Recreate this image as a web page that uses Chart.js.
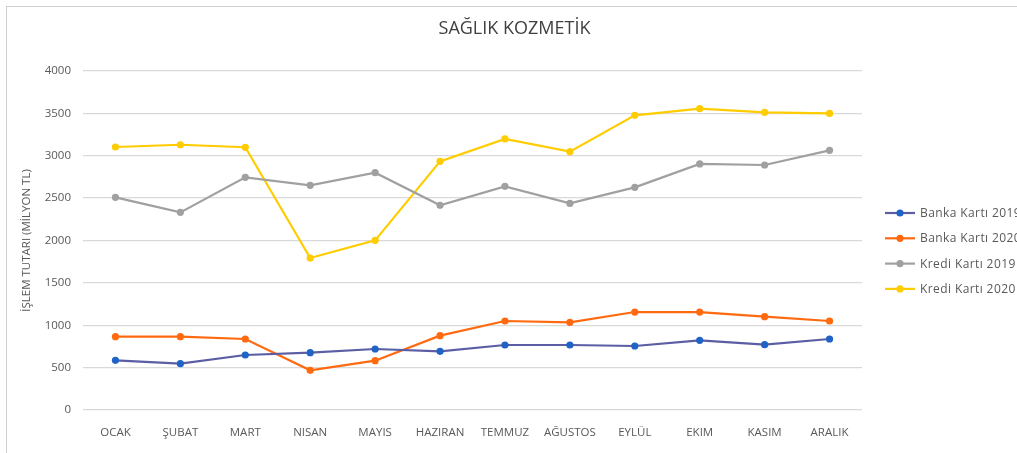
<!DOCTYPE html>
<html>
<head>
<meta charset="utf-8">
<script src="https://cdn.jsdelivr.net/npm/chart.js@4.4.1/dist/chart.umd.min.js"></script>
<style>
    html, body { margin: 0; padding: 0; background: #fff; overflow: hidden; }
    #wrap { position: relative; width: 1017px; height: 453px; }
    #frame { position: absolute; left: 6px; top: 6px; width: 1040px; height: 470px; border: 1px solid #cfcfcf; box-sizing: border-box; }
    canvas { position: absolute; left: 0; top: 0; }
</style>
</head>
<body>
<div id="wrap">
    <div id="frame"></div>
    <canvas id="chart" width="1017" height="453"></canvas>
</div>
<script>
// Chart data
const chartTitle = 'SAĞLIK KOZMETİK';
const months = ['OCAK', 'ŞUBAT', 'MART', 'NISAN', 'MAYIS', 'HAZIRAN', 'TEMMUZ', 'AĞUSTOS', 'EYLÜL', 'EKIM', 'KASIM', 'ARALIK'];
const banka2019 = [586, 547, 649, 676, 720, 692, 767, 767, 755, 822, 771, 838];
const banka2020 = [865, 865, 838, 468, 582, 877, 1050, 1035, 1156, 1156, 1101, 1050];
const kredi2019 = [2509, 2332, 2745, 2651, 2800, 2415, 2639, 2438, 2627, 2903, 2891, 3064];
const kredi2020 = [3103, 3130, 3100, 1793, 2002, 2934, 3198, 3048, 3477, 3556, 3512, 3500];
const yTicks = [0, 500, 1000, 1500, 2000, 2500, 3000, 3500, 4000];

const FONT = "'Open Sans', 'Noto Sans', sans-serif";
const TEXT = '#595959';

function series(label, data, lineColor, pointColor) {
    return {
        label: label,
        data: data,
        borderColor: lineColor,
        backgroundColor: pointColor,
        pointBackgroundColor: pointColor,
        pointBorderColor: pointColor,
        pointBorderWidth: 0,
        pointRadius: 3.6,
        borderWidth: 2.2,
        tension: 0,
        fill: false
    };
}

// Title centred on the whole canvas, legend on the right
const decorations = {
    id: 'decorations',
    afterDraw(chart) {
        const ctx = chart.ctx;
        ctx.save();
        ctx.fillStyle = '#404040';
        ctx.font = '18px ' + FONT;
        ctx.textAlign = 'center';
        ctx.textBaseline = 'middle';
        ctx.fillText(chartTitle, chart.width / 2 + 6, 29);

        ctx.font = '12px ' + FONT;
        ctx.textAlign = 'left';
        if ('letterSpacing' in ctx) ctx.letterSpacing = '0.4px';
        chart.data.datasets.forEach((ds, i) => {
            const y = 213 + i * 25.3;
            ctx.strokeStyle = ds.borderColor;
            ctx.lineWidth = 2.2;
            ctx.beginPath();
            ctx.moveTo(885, y);
            ctx.lineTo(915, y);
            ctx.stroke();
            ctx.fillStyle = ds.pointBackgroundColor;
            ctx.beginPath();
            ctx.arc(900, y, 3.6, 0, Math.PI * 2);
            ctx.fill();
            ctx.fillStyle = TEXT;
            ctx.fillText(ds.label, 920, y + 0.5);
        });
        ctx.restore();
    }
};

const ctx = document.getElementById('chart').getContext('2d');
new Chart(ctx, {
    type: 'line',
    data: {
        labels: months,
        datasets: [
            series('Banka Kartı 2019', banka2019, '#5b5ea4', '#1f63c6'),
            series('Banka Kartı 2020', banka2020, '#ff6a10', '#ff6a10'),
            series('Kredi Kartı 2019', kredi2019, '#a0a0a0', '#a0a0a0'),
            series('Kredi Kartı 2020', kredi2020, '#ffcc00', '#ffcc00')
        ]
    },
    options: {
        responsive: false,
        animation: false,
        layout: { padding: { left: 0, right: 155, top: 71, bottom: 0 } },
        plugins: {
            legend: { display: false },
            tooltip: { enabled: false },
            title: { display: false }
        },
        scales: {
            x: {
                offset: true,
                grid: { display: false, drawTicks: false },
                border: { display: false },
                ticks: {
                    color: TEXT,
                    font: { family: FONT, size: 11.5 },
                    padding: 16,
                    maxRotation: 0,
                    autoSkip: false
                },
                afterFit(scale) { scale.height = 43; }
            },
            y: {
                min: 0,
                max: 4000,
                afterBuildTicks(scale) { scale.ticks = yTicks.map(v => ({ value: v })); },
                grid: { color: '#d9d9d9', lineWidth: 1.3, drawTicks: false },
                border: { display: false },
                ticks: {
                    color: TEXT,
                    font: { family: FONT, size: 11.5 },
                    padding: 12,
                    callback: v => String(v)
                },
                title: {
                    display: true,
                    text: 'İŞLEM TUTARI (MİLYON TL)',
                    color: TEXT,
                    font: { family: FONT, size: 11.5 },
                    padding: { top: 20, bottom: 0 }
                },
                afterFit(scale) { scale.width = 83; }
            }
        }
    },
    plugins: [decorations]
});
</script>
</body>
</html>
